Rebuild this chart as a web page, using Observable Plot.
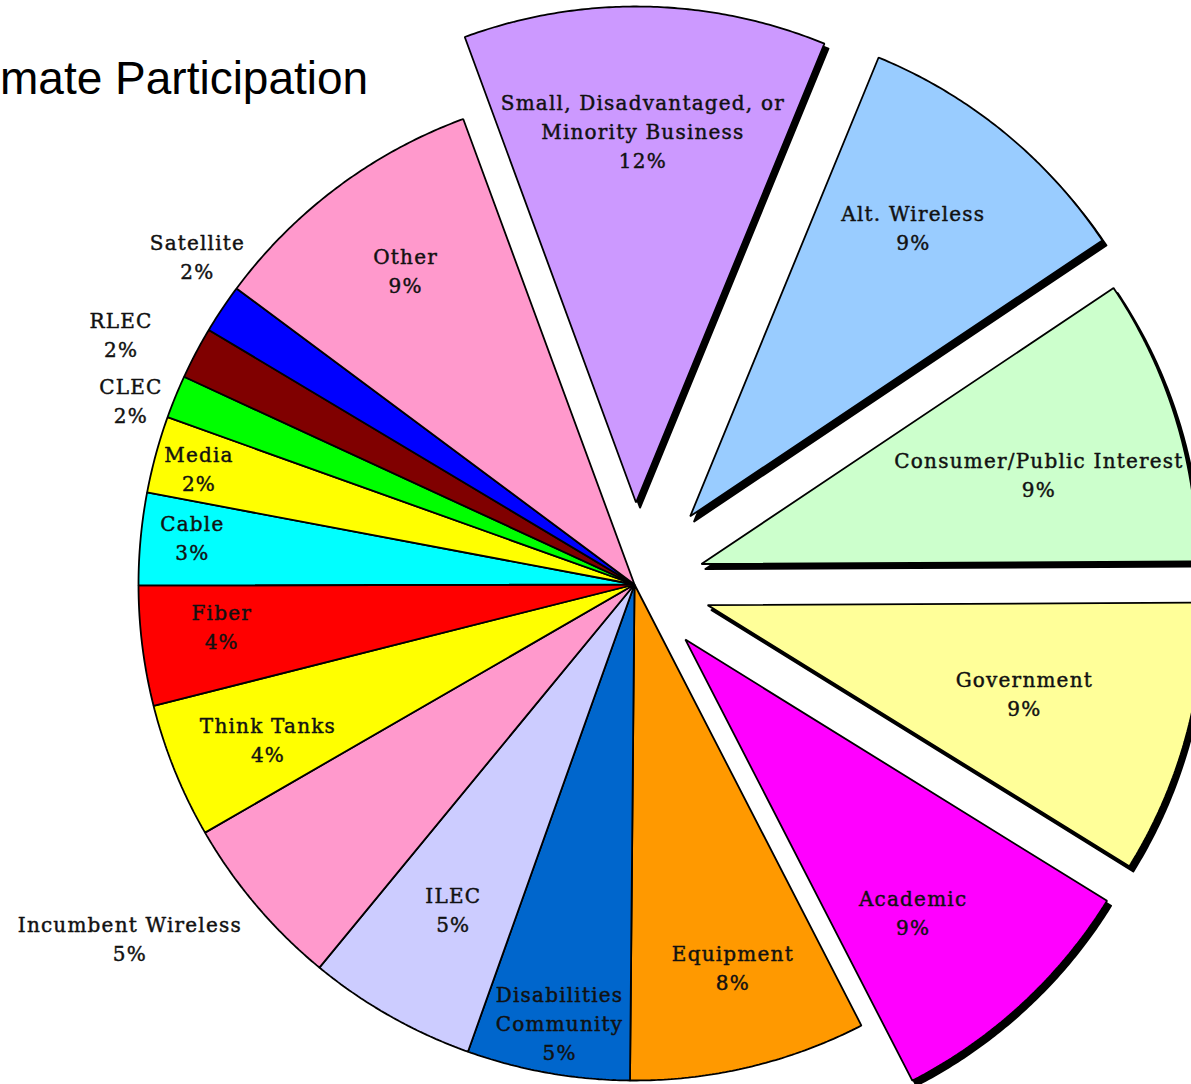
<!DOCTYPE html>
<html><head><meta charset="utf-8">
<script src="https://cdn.jsdelivr.net/npm/d3@7"></script>
<script src="https://cdn.jsdelivr.net/npm/@observablehq/plot@0.6"></script>
<style>
html,body{margin:0;padding:0;background:#fff;}
#wrap{position:relative;width:1191px;height:1084px;overflow:hidden;background:#fff;}
#title{position:absolute;left:0;top:55px;font-family:"Liberation Sans",Arial,sans-serif;font-size:46px;line-height:1;color:#000;white-space:nowrap;}
</style></head><body>
<div id="wrap"><div id="chart"></div><div id="title">mate Participation</div></div>
<script>
// ---- data (clockwise from the top) ----
const categories = [
  "Small, Disadvantaged, or\nMinority Business",
  "Alt. Wireless",
  "Consumer/Public Interest",
  "Government",
  "Academic",
  "Equipment",
  "Disabilities\nCommunity",
  "ILEC",
  "Incumbent Wireless",
  "Think Tanks",
  "Fiber",
  "Cable",
  "Media",
  "CLEC",
  "RLEC",
  "Satellite",
  "Other"
];
const shares = [11.8, 9.4, 9.3, 8.9, 8.6, 7.7, 5.3, 5.5, 5.7, 4.4, 3.9, 3.0, 2.5, 1.4, 1.7, 1.6, 9.2];
const percentLabels = ["12%", "9%", "9%", "9%", "9%", "8%", "5%", "5%", "5%", "4%", "4%", "3%", "2%", "2%", "2%", "2%", "9%"];
const colors = ["#CC99FF", "#99CCFF", "#CCFFCC", "#FFFF99", "#FF00FF", "#FF9900", "#0066CC", "#CCCCFF", "#FF99CC", "#FFFF00", "#FF0000", "#00FFFF", "#FFFF00", "#00FF00", "#800000", "#0000FF", "#FF99CC"];

// ---- layout (not data) ----
const W = 1191, H = 1084;
const geom = {cx: 634, cy: 584, r: 496, startDeg: -20.2, shadowDx: 4, shadowDy: 5};
const explodeDist = [82, 88, 70, 76, 75, 0, 0, 0, 0, 0, 0, 0, 0, 0, 0, 0, 0];
const labelRadius = [0.746, 0.733, 0.703, 0.664, 0.72, 0.80, 0.90, 0.753, 1.245, 0.804, 0.837, 0.896, 0.908, 1.08, 1.15, 1.10, 0.78];
const labelTurnDeg = [0, -1.4, 2.5, 0.2, 3.1, -1, -0.4, -0.5, 5.1, -1.1, 1.05, 0.5, -0.45, -2.3, -2.0, 3.0, 0.5];

const rows = categories.map((c, i) => ({i, name: c, share: shares[i], pct: percentLabels[i], color: colors[i]}));
const start = geom.startDeg * Math.PI / 180;
const arcs = d3.pie().sort(null).value(d => d.share).startAngle(start).endAngle(start + 2 * Math.PI)(rows);

const slices = arcs.map(a => {
  const d = a.data;
  const mid = (a.startAngle + a.endAngle) / 2;
  const off = explodeDist[d.i];
  const ax = geom.cx + off * Math.sin(mid), ay = geom.cy - off * Math.cos(mid);
  const n = Math.max(2, Math.ceil((a.endAngle - a.startAngle) / (0.4 * Math.PI / 180)));
  const pts = [{x: ax, y: ay}];
  for (let k = 0; k <= n; k++) {
    const t = a.startAngle + (a.endAngle - a.startAngle) * k / n;
    pts.push({x: ax + geom.r * Math.sin(t), y: ay - geom.r * Math.cos(t)});
  }
  const la = mid + labelTurnDeg[d.i] * Math.PI / 180;
  const lr = labelRadius[d.i] * geom.r;
  return {...d, exploded: off > 0, pts, lx: ax + lr * Math.sin(la), ly: ay - lr * Math.cos(la)};
});

const marks = [];
for (const s of slices.filter(s => s.exploded)) {
  marks.push(Plot.line(s.pts, {x: "x", y: "y", curve: "linear-closed", fill: "black", stroke: "black", strokeWidth: 2, dx: geom.shadowDx, dy: geom.shadowDy}));
}
for (const s of slices) {
  marks.push(Plot.line(s.pts, {x: "x", y: "y", curve: "linear-closed", fill: s.color, stroke: "black", strokeWidth: 1.8, strokeLinejoin: "miter"}));
}
marks.push(Plot.text(slices, {
  x: "lx", y: "ly", text: d => d.name + "\n" + d.pct,
  textAnchor: "middle", lineAnchor: "middle", lineHeight: 1.45, dy: -3,
  fontSize: 20, fontFamily: "DejaVu Serif", fill: "#111",
  stroke: "#111", strokeWidth: 0.45
}));

const chart = Plot.plot({
  width: W, height: H, margin: 0,
  x: {domain: [0, W], range: [0, W], axis: null},
  y: {domain: [0, H], range: [0, H], axis: null},
  style: {background: "#fff", letterSpacing: "1.2px", overflow: "hidden"},
  marks
});
document.getElementById("chart").appendChild(chart);
</script>
</body></html>
